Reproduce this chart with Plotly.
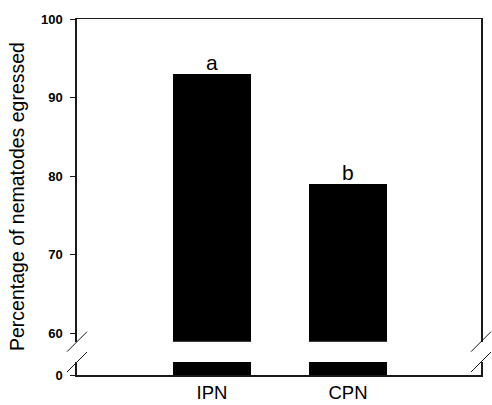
import plotly.graph_objects as go

categories = ["IPN", "CPN"]
values = [93, 79]
letters = ["a", "b"]
upper_ticks = [60, 70, 80, 90, 100]
lower_ticks = [0]

W, H = 492, 405
ML, MR, MT, MB = 77, 11, 19, 30
PW = W - ML - MR
PH = H - MT - MB

def py(pix):  # pixel y (from top) -> paper y
    return (H - MB - pix) / PH

top_dom_bottom = py(341.7)
bot_dom_top = py(362)

FONT = "Arial, Liberation Sans, sans-serif"
LINE = "#1a1a1a"

fig = go.Figure()
fig.add_trace(go.Bar(x=categories, y=values, xaxis="x", yaxis="y",
                     marker=dict(color="black", line=dict(width=0)), width=0.575,
                     showlegend=False, hoverinfo="skip"))
fig.add_trace(go.Bar(x=categories, y=values, xaxis="x2", yaxis="y2",
                     marker=dict(color="black", line=dict(width=0)), width=0.575,
                     showlegend=False, hoverinfo="skip"))

xr = [-0.993, 1.978]
common_y = dict(showline=True, linecolor=LINE, linewidth=1.5, mirror=True,
                showgrid=False, zeroline=False, ticks="outside", ticklen=5,
                tickcolor=LINE, tickwidth=1, ticklabelstandoff=5, automargin=False,
                tickfont=dict(family=FONT, size=13, color="black", weight=700))

fig.update_layout(
    template="none",
    width=W, height=H, autosize=False,
    margin=dict(l=ML, r=MR, t=MT, b=MB, pad=0),
    paper_bgcolor="white", plot_bgcolor="white",
    bargap=0,
    xaxis=dict(domain=[0, 1], anchor="y", range=xr, showline=True, linecolor=LINE,
               linewidth=1.5, showgrid=False, zeroline=False, ticks="",
               automargin=False,
               tickfont=dict(family=FONT, size=18.5, color="black"),
               ticklabelstandoff=0),
    xaxis2=dict(domain=[0, 1], anchor="y2", range=xr, side="top", showline=True,
                linecolor=LINE, linewidth=1, showgrid=False, zeroline=False,
                automargin=False,
                ticks="", showticklabels=False, matches="x"),
    yaxis=dict(domain=[0, bot_dom_top], anchor="x", range=[0, 1],
               tickvals=lower_ticks, **common_y),
    yaxis2=dict(domain=[top_dom_bottom, 1], anchor="x2", range=[58.93, 100],
                tickvals=upper_ticks, **common_y),
)

for c, v, t in zip(categories, values, letters):
    fig.add_annotation(x=c, y=v, xref="x2", yref="y2", text=t, showarrow=False,
                       yanchor="bottom", yshift=-2,
                       font=dict(family=FONT, size=21, color="black"))

fig.add_annotation(x=(17 - ML) / PW, y=py(197), xref="paper", yref="paper",
                   text="Percentage of nematodes egressed", textangle=-90,
                   showarrow=False, xanchor="center", yanchor="middle",
                   font=dict(family=FONT, size=19.5, color="black"))

# axis break marks
for xa in [0, 1]:
    for ya in [top_dom_bottom, bot_dom_top]:
        fig.add_shape(type="line", xref="paper", yref="paper",
                      xsizemode="pixel", ysizemode="pixel",
                      xanchor=xa, yanchor=ya, x0=-10, x1=10, y0=-10, y1=10,
                      line=dict(color=LINE, width=1))

fig.write_html("out.html",
               config={"displayModeBar": False, "responsive": False},
               post_script="document.body.style.margin='0';document.body.style.padding='0';")
